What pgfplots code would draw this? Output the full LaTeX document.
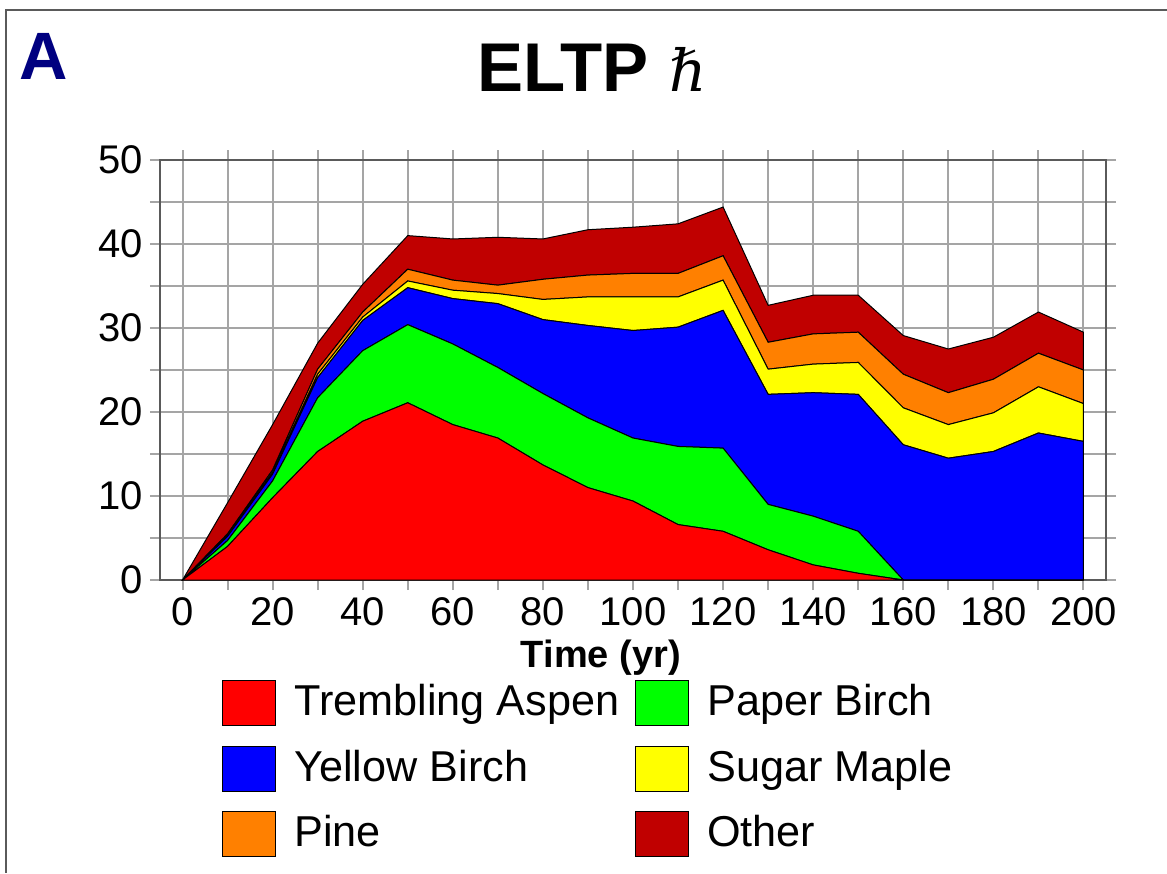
\documentclass[border=0pt]{standalone}
\usepackage{fontspec}
\setmainfont{Liberation Sans}
\newfontfamily\djv{DejaVu Serif}
\usepackage{pgfplots}
\usepackage{pgfplotstable}
\pgfplotsset{compat=1.18}
\definecolor{gridgray}{RGB}{165,165,165}
\definecolor{framegray}{RGB}{90,90,90}
\definecolor{cRed}{RGB}{255,0,0}
\definecolor{cGreen}{RGB}{0,255,0}
\definecolor{cBlue}{RGB}{0,0,255}
\definecolor{cYellow}{RGB}{255,255,0}
\definecolor{cOrange}{RGB}{255,128,0}
\definecolor{cOther}{RGB}{192,0,0}
\definecolor{navyA}{RGB}{0,0,128}

\pgfplotstableread{
x    aspen pbirch ybirch maple pine other
0    0     0      0      0     0    0
10   4.0   0.7    0.5    0.1   0.2  3.7
20   9.8   2.0    0.8    0.2   0.3  5.4
30   15.3  6.4    2.4    0.4   0.6  3.1
40   18.9  8.4    3.6    0.4   0.6  3.3
50   21.1  9.3    4.4    0.8   1.4  4.0
60   18.5  9.6    5.4    1.0   1.2  4.9
70   16.9  8.4    7.6    1.2   1.0  5.7
80   13.7  8.5    8.8    2.4   2.4  4.8
90   11.0  8.3    11.0   3.4   2.6  5.4
100  9.4   7.5    12.8   4.0   2.8  5.5
110  6.6   9.3    14.2   3.6   2.8  5.9
120  5.8   9.9    16.4   3.6   2.9  5.8
130  3.6   5.4    13.1   3.0   3.2  4.4
140  1.8   5.8    14.7   3.4   3.6  4.6
150  0.8   5.0    16.3   3.8   3.6  4.4
160  0     0      16.1   4.4   4.0  4.6
170  0     0      14.5   4.0   3.8  5.2
180  0     0      15.3   4.6   4.0  5.0
190  0     0      17.5   5.5   4.0  4.9
200  0     0      16.5   4.5   4.0  4.5
}\datatable

\begin{document}
\begin{tikzpicture}
\useasboundingbox (-80pt,-146.5pt) rectangle (503.5pt,290pt);
\draw[framegray, line width=1pt] (503.5pt,285pt) -- (-77pt,285pt) -- (-77pt,-146.5pt);
\node[anchor=base west, inner sep=0pt, text=navyA, font=\fontsize{33.5}{40}\selectfont\bfseries] at (-70.5pt,250pt) {A};
\node[anchor=base west, inner sep=0pt] at (158.5pt,244pt) {\fontsize{34.5}{40}\selectfont\bfseries ELTP\hspace{0.3em}\fontsize{29}{34}\selectfont\djv\itshape\mdseries ℏ};
\begin{axis}[
 at={(0,0)}, anchor=south west,
 scale only axis, width=473pt, height=210pt,
 xmin=-5, xmax=205, ymin=0, ymax=50,
 stack plots=y,
 xtick={0,20,...,200}, minor xtick={10,30,...,190},
 ytick={0,10,...,50}, minor ytick={5,15,...,45},
 grid=both,
 major grid style={gridgray, line width=1pt},
 minor grid style={gridgray, line width=1pt},
 tick align=outside, major tick length=5pt, minor tick length=5pt,
 tick style={gridgray, line width=1pt},
 axis line style={framegray, line width=1pt},
 tick label style={font=\fontsize{20}{24}\selectfont},
 /pgf/number format/assume math mode=true,
 xlabel={Time (yr)},
 xlabel style={font=\fontsize{19}{23}\selectfont\bfseries, at={(axis description cs:0.466,-0.2095)}, anchor=base},
 legend columns=2,
 legend cell align=left,
 legend style={draw=none, fill=none, inner sep=0pt,
   at={(axis description cs:0.0655,-0.238)}, anchor=north west,
   font=\fontsize{21.6}{25}\selectfont,
   cells={anchor=west},
   nodes={inner sep=0pt, text height=17.5pt, text depth=5pt},
   row sep=9.75pt,
   /tikz/every odd column/.append style={column sep=9pt},
   /tikz/every even column/.append style={column sep=8pt}},
 legend image code/.code={\draw[#1, draw=black, line width=0.5pt] (0pt,-11.25pt) rectangle (26.5pt,11.25pt);},
]
\addplot[fill=cRed, draw=black, line width=0.5pt] table[x=x, y=aspen] {\datatable} \closedcycle;
\addlegendentry{Trembling Aspen}
\addplot[fill=cGreen, draw=black, line width=0.5pt] table[x=x, y=pbirch] {\datatable} \closedcycle;
\addlegendentry{Paper Birch}
\addplot[fill=cBlue, draw=black, line width=0.5pt] table[x=x, y=ybirch] {\datatable} \closedcycle;
\addlegendentry{Yellow Birch}
\addplot[fill=cYellow, draw=black, line width=0.5pt] table[x=x, y=maple] {\datatable} \closedcycle;
\addlegendentry{Sugar Maple}
\addplot[fill=cOrange, draw=black, line width=0.5pt] table[x=x, y=pine] {\datatable} \closedcycle;
\addlegendentry{Pine}
\addplot[fill=cOther, draw=black, line width=0.5pt] table[x=x, y=other] {\datatable} \closedcycle;
\addlegendentry{Other}
\end{axis}
\end{tikzpicture}
\end{document}
